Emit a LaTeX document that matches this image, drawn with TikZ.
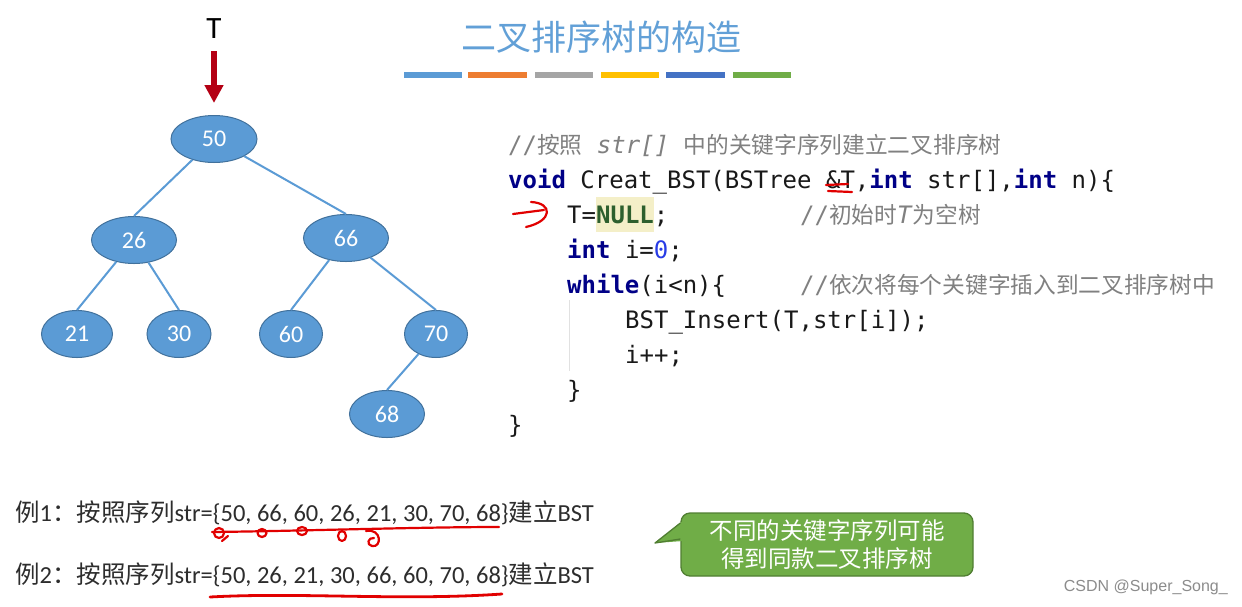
\documentclass[tikz,border=0pt]{standalone}
\usepackage{fontspec}
\setmainfont{Carlito}
\newfontfamily\cjk{Noto Sans CJK SC}
\newfontfamily\mono[BoldFont={DejaVu Sans Mono Bold},ItalicFont={DejaVu Sans Mono Oblique}]{DejaVu Sans Mono}
\newfontfamily\wmfont{Liberation Sans}
\usetikzlibrary{shapes.geometric,arrows.meta}
\definecolor{nodefill}{RGB}{91,155,213}
\definecolor{nodeline}{RGB}{65,113,156}
\definecolor{titlec}{RGB}{98,160,215}
\definecolor{barA}{RGB}{91,155,213}
\definecolor{barB}{RGB}{237,125,49}
\definecolor{barC}{RGB}{165,165,165}
\definecolor{barD}{RGB}{255,192,0}
\definecolor{barE}{RGB}{68,114,196}
\definecolor{barF}{RGB}{112,173,71}
\definecolor{kwc}{RGB}{0,0,135}
\definecolor{codec}{RGB}{25,25,25}
\definecolor{nullc}{RGB}{45,95,45}
\definecolor{numc}{RGB}{40,60,230}
\definecolor{cmtc}{RGB}{128,128,128}
\definecolor{hlc}{RGB}{244,239,200}
\definecolor{guidec}{RGB}{225,225,225}
\definecolor{tred}{RGB}{180,0,20}
\definecolor{penred}{RGB}{225,0,0}
\definecolor{exc}{RGB}{45,45,45}
\definecolor{callfill}{RGB}{112,173,71}
\definecolor{callline}{RGB}{80,126,50}
\definecolor{wmc}{RGB}{140,140,140}
\newcommand{\cc}[1]{{\cjk\fontsize{22.7}{28}\selectfont #1}}
\newcommand{\kw}[1]{{\bfseries\color{kwc}#1}}
\tikzset{
  bstnode/.style={ellipse, fill=nodefill, draw=nodeline, line width=1pt,
    text=white, font=\fontsize{24}{28}\selectfont, inner sep=0pt, minimum height=47pt},
  edge/.style={draw=nodefill, line width=2pt},
  codeline/.style={anchor=base west, inner sep=0pt, text=codec,
    font=\mono\fontsize{24}{28}\selectfont},
  bar/.style={line width=6pt},
  extext/.style={anchor=base west, inner sep=0pt, text=exc,
    font=\fontsize{24.5}{28}\selectfont},
  pen/.style={draw=penred, line width=2.2pt, line cap=round, line join=round},
  callbox/.style={rounded corners=9pt, fill=callfill, draw=callline, line width=1.3pt,
    minimum width=292pt, minimum height=63pt, align=center, text=white,
    font=\cjk\fontsize{23.5}{28}\selectfont},
}
\begin{document}
\begin{tikzpicture}[x=1pt,y=-1pt]
\useasboundingbox (0,0) rectangle (1242,606);
\fill[white] (0,0) rectangle (1242,606);

% title
\node[text=titlec, font=\cjk\fontsize{35}{40}\selectfont, inner sep=0pt] (title) at (601,37) {二叉排序树的构造};
\draw[bar, barA] (404,75) -- (462,75);
\draw[bar, barB] (468,75) -- (527,75);
\draw[bar, barC] (535,75) -- (593,75);
\draw[bar, barD] (601,75) -- (659,75);
\draw[bar, barE] (666,75) -- (725,75);
\draw[bar, barF] (733,75) -- (791,75);

% tree
\node[bstnode, minimum width=86pt] (n50) at (214,139) {50};
\node[bstnode, minimum width=85pt] (n26) at (134,240) {26};
\node[bstnode, minimum width=85pt] (n66) at (346,238) {66};
\node[bstnode, minimum width=71pt] (n21) at (77,334) {21};
\node[bstnode, minimum width=64pt] (n30) at (179,334) {30};
\node[bstnode, minimum width=63pt] (n60) at (291,334) {60};
\node[bstnode, minimum width=63pt] (n70) at (436,334) {70};
\node[bstnode, minimum width=75pt] (n68) at (387,414) {68};
\draw[edge] (n50) -- (n26.north);
\draw[edge] (n50) -- (n66.north);
\draw[edge] (n26) -- (n21.north);
\draw[edge] (n26) -- (n30.north);
\draw[edge] (n66) -- (n60.north);
\draw[edge] (n66) -- (n70.north);
\draw[edge] (n70) -- (n68.north);

\node[font=\fontsize{31}{34}\selectfont, inner sep=0pt] (Tlab) at (214,29) {T};
\draw[tred, line width=6pt, -{Triangle[width=18pt,length=18pt]}, shorten <=12pt, shorten >=12pt] (Tlab.south) -- (n50.north);

% code
\fill[hlc] (596,197) rectangle (654,232);
\draw[guidec, line width=1pt] (569,300) -- (569,371);
\node[codeline] (c1) at (508,153) {\color{cmtc}//\cc{按照} \textit{str[]} \cc{中的关键字序列建立二叉排序树}};
\node[codeline] (c2) at (508,188) {\kw{void} Creat\_BST(BSTree \&T,\kw{int} str[],\kw{int} n)\{};
\node[codeline] (c3) at (567,223) {T={\bfseries\color{nullc}NULL};};
\node[codeline, text=cmtc] (m3) at (800,223) {//\cc{初始时}\textit{T}\cc{为空树}};
\node[codeline] (c4) at (567,258) {\kw{int} i={\color{numc}0};};
\node[codeline] (c5) at (567,293) {\kw{while}(i<n)\{};
\node[codeline, text=cmtc] (m5) at (800,293) {//\cc{依次将每个关键字插入到二叉排序树中}};
\node[codeline] (c6) at (625,328) {BST\_Insert(T,str[i]);};
\node[codeline] (c7) at (625,363) {i++;};
\node[codeline] (c8) at (567,398) {\}};
\node[codeline] (c9) at (508,433) {\}};

% red pen marks in code
\draw[pen] (513,214) -- (544,210);
\draw[pen] (531,202) .. controls (553,203) and (553,221) .. (526,227);
\draw[pen] (826,185) -- (848,184);
\draw[pen] (828,191) -- (852,192);

% examples
\node[extext] (e1) at (15,521) {\cjk 例\normalfont 1\cjk ：按照序列\normalfont str=\{50, 66, 60, 26, 21, 30, 70, 68\}\cjk 建立\normalfont BST};
\node[extext] (e2) at (15,583) {\cjk 例\normalfont 2\cjk ：按照序列\normalfont str=\{50, 26, 21, 30, 66, 60, 70, 68\}\cjk 建立\normalfont BST};

\draw[pen] (212,532) .. controls (300,531) and (420,527) .. (499,527);
\draw[pen] (219,533) circle[x radius=5pt, y radius=5pt];
\draw[pen] (228,536) -- (222,541);
\draw[pen] (262,533) circle[x radius=4.5pt, y radius=4pt];
\draw[pen] (302,531) circle[x radius=5pt, y radius=4pt];
\draw[pen] (342,536) circle[x radius=4pt, y radius=5pt];
\draw[pen] (366,531) .. controls (382,528) and (382,548) .. (372,546) .. controls (366,545) and (368,537) .. (374,538);
\draw[pen, line width=2.8pt] (210,597) .. controls (300,592) and (400,601) .. (502,594);

% callout
\node[callbox] (call) at (827,544.5) {不同的关键字序列可能\\得到同款二叉排序树};
\fill[callfill] (683,521) -- (655,543) -- (683,541) -- cycle;
\draw[callline, line width=1.3pt, line join=round] (call.west |- 0,523) -- (655,543) -- (call.west |- 0,539);

% watermark
\node[anchor=base east, inner sep=0pt, text=wmc, font=\wmfont\fontsize{16}{18}\selectfont] (wm) at (1228,591) {CSDN @Super\_Song\_};
\end{tikzpicture}
\end{document}
